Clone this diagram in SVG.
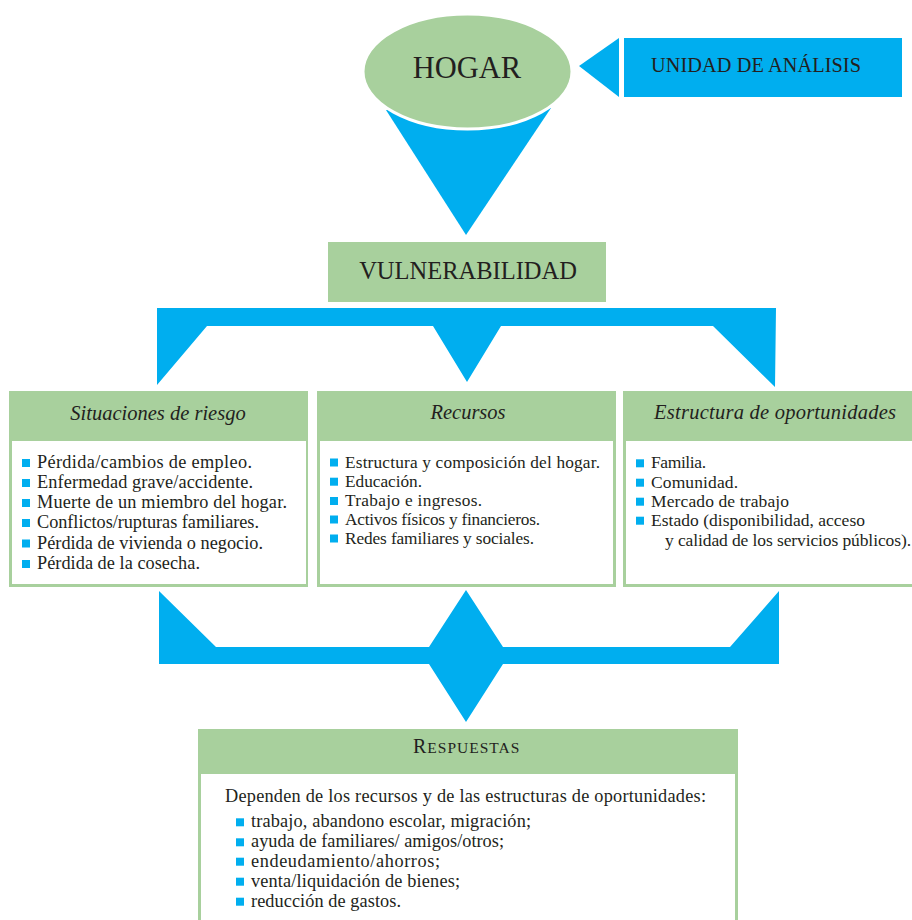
<svg xmlns="http://www.w3.org/2000/svg" width="912" height="920" viewBox="0 0 912 920">
<style>
.g{fill:#a8d09d}
.w{fill:#ffffff}
.b{fill:#00aeef}
.t{font-family:"Liberation Serif","Times New Roman",serif;fill:#231f20}
.b1{font-size:18.3px}
.b2{font-size:17.3px}
.b3{font-size:17.5px}
.b4{font-size:18.3px}
.hd{font-size:20.5px;font-style:italic;text-anchor:middle}
.hs{font-size:20.5px;font-style:italic;text-anchor:start}
</style>
<defs>
<rect id="sq" width="8" height="8" fill="#00aeef"/>
</defs>
<rect width="912" height="920" fill="#ffffff"/>
<g id="connectors">
<polygon class="b" points="386,110 551,108 466,235"/>
<polygon class="b" points="579,66 619,38 619,97"/>
<polygon class="b" points="157,308 776,308 775,387 713,326 501,326 467,382 433,326 207,326 157,385"/>
<polygon class="b" points="159,591 216,647 429,647 466,590 503,647 730,647 779,591 779,664 503,664 466,722 429,664 159,664"/>
</g>
<g id="hogar">
<ellipse class="g" cx="467.5" cy="71.5" rx="104.5" ry="57.5" stroke="#ffffff" stroke-width="3"/>
<text class="t" x="467" y="78" font-size="30.5" text-anchor="middle">HOGAR</text>
</g>
<g id="unidad">
<rect class="b" x="624" y="38" width="278" height="59"/>
<text class="t" x="651" y="72" font-size="20.3" textLength="210" lengthAdjust="spacing">UNIDAD DE ANÁLISIS</text>
</g>
<g id="vulnerabilidad">
<rect class="g" x="328" y="242" width="278" height="60"/>
<text class="t" x="468" y="279" font-size="24.5" text-anchor="middle">VULNERABILIDAD</text>
</g>
<g id="situaciones">
<rect class="g" x="9" y="391" width="299" height="196"/>
<rect class="w" x="12" y="441" width="294" height="143"/>
<text class="t hd" x="158" y="420">Situaciones de riesgo</text>
<use href="#sq" x="22" y="459"/><text class="t b1" x="37" y="468" textLength="215" lengthAdjust="spacing">Pérdida/cambios de empleo.</text>
<use href="#sq" x="22" y="479"/><text class="t b1" x="37" y="488" textLength="216" lengthAdjust="spacing">Enfermedad grave/accidente.</text>
<use href="#sq" x="22" y="499"/><text class="t b1" x="37" y="508" textLength="250" lengthAdjust="spacing">Muerte de un miembro del hogar.</text>
<use href="#sq" x="22" y="519"/><text class="t b1" x="37" y="528" textLength="222" lengthAdjust="spacing">Conflictos/rupturas familiares.</text>
<use href="#sq" x="22" y="539.5"/><text class="t b1" x="37" y="548.5" textLength="226" lengthAdjust="spacing">Pérdida de vivienda o negocio.</text>
<use href="#sq" x="22" y="560"/><text class="t b1" x="37" y="569" textLength="163" lengthAdjust="spacing">Pérdida de la cosecha.</text>
</g>
<g id="recursos">
<rect class="g" x="317" y="391" width="299" height="196"/>
<rect class="w" x="320" y="441" width="293" height="143"/>
<text class="t hd" x="468" y="419">Recursos</text>
<use href="#sq" x="330" y="458.5"/><text class="t b2" x="345" y="467.5" textLength="255" lengthAdjust="spacing">Estructura y composición del hogar.</text>
<use href="#sq" x="330" y="477.7"/><text class="t b2" x="345" y="486.7" textLength="77" lengthAdjust="spacing">Educación.</text>
<use href="#sq" x="330" y="497"/><text class="t b2" x="345" y="506" textLength="137" lengthAdjust="spacing">Trabajo e ingresos.</text>
<use href="#sq" x="330" y="515.5"/><text class="t b2" x="345" y="524.5" textLength="195" lengthAdjust="spacing">Activos físicos y financieros.</text>
<use href="#sq" x="330" y="534.5"/><text class="t b2" x="345" y="543.5" textLength="189" lengthAdjust="spacing">Redes familiares y sociales.</text>
</g>
<g id="estructura">
<rect class="g" x="623" y="391" width="302" height="196"/>
<rect class="w" x="626" y="441" width="296" height="143"/>
<text class="t hs" x="654" y="419" textLength="242" lengthAdjust="spacing">Estructura de oportunidades</text>
<use href="#sq" x="636" y="459.3"/><text class="t b3" x="651" y="468.3" textLength="55" lengthAdjust="spacing">Familia.</text>
<use href="#sq" x="636" y="478.7"/><text class="t b3" x="651" y="487.7" textLength="87" lengthAdjust="spacing">Comunidad.</text>
<use href="#sq" x="636" y="497.7"/><text class="t b3" x="651" y="506.7" textLength="138" lengthAdjust="spacing">Mercado de trabajo</text>
<use href="#sq" x="636" y="516.7"/><text class="t b3" x="651" y="525.7" textLength="214" lengthAdjust="spacing">Estado (disponibilidad, acceso</text>
<text class="t b3" x="665" y="545.7" textLength="246" lengthAdjust="spacing">y calidad de los servicios públicos).</text>
</g>
<g id="respuestas">
<rect class="g" x="198" y="729" width="540" height="196"/>
<rect class="w" x="201" y="774" width="534" height="151"/>
<text class="t" x="413" y="753" font-size="20" letter-spacing="1">R<tspan font-size="15.5">ESPUESTAS</tspan></text>
<text class="t b4" x="225" y="802" textLength="481" lengthAdjust="spacing">Dependen de los recursos y de las estructuras de oportunidades:</text>
<use href="#sq" x="236" y="818.3"/><text class="t b4" x="251" y="827.3" textLength="280" lengthAdjust="spacing">trabajo, abandono escolar, migración;</text>
<use href="#sq" x="236" y="838.3"/><text class="t b4" x="251" y="847.3" textLength="253" lengthAdjust="spacing">ayuda de familiares/ amigos/otros;</text>
<use href="#sq" x="236" y="857.7"/><text class="t b4" x="251" y="866.7" textLength="189" lengthAdjust="spacing">endeudamiento/ahorros;</text>
<use href="#sq" x="236" y="877.7"/><text class="t b4" x="251" y="886.7" textLength="209" lengthAdjust="spacing">venta/liquidación de bienes;</text>
<use href="#sq" x="236" y="897.7"/><text class="t b4" x="251" y="906.7" textLength="150" lengthAdjust="spacing">reducción de gastos.</text>
</g>
</svg>
